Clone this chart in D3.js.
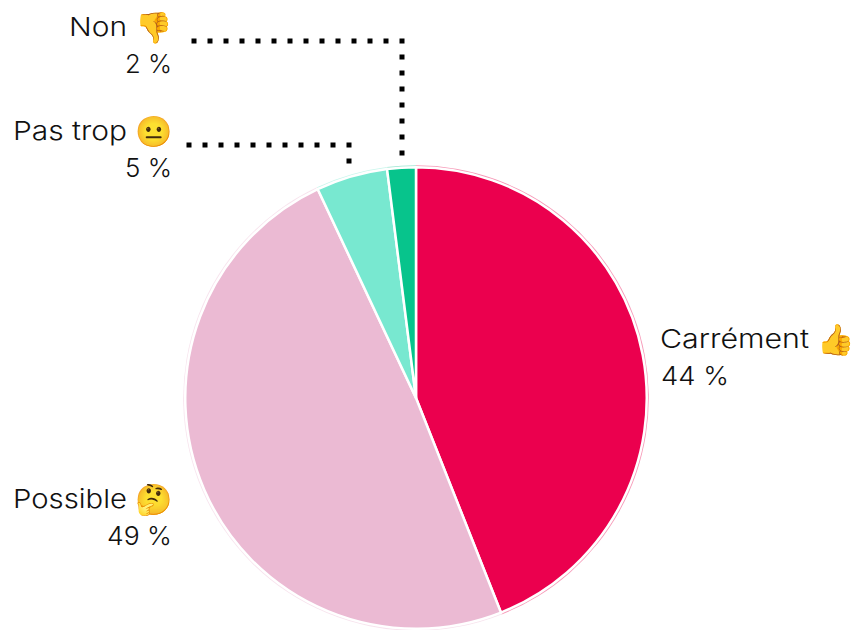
<!DOCTYPE html>
<html>
<head>
<meta charset="utf-8">
<script src="https://cdn.jsdelivr.net/npm/d3@7"></script>
<style>
  body { margin: 0; background: #fff; }
  text { font-family: Inter, Lato, "Noto Sans", sans-serif; font-size: 26px; font-weight: 300; fill: #111; }
  text.emoji { font-size: 30px; }
</style>
</head>
<body>
<svg id="chart" width="854" height="630"></svg>
<script>
const labels = ["Carrément", "Possible", "Pas trop", "Non"];
const values = [44, 49, 5, 2];
const emojis = ["👍", "🤔", "😐", "👎"];
const colors = ["#eb004e", "#ebbad3", "#78e8d0", "#07c48c"];

const svg = d3.select("#chart");
const cx = 416, cy = 398;
const pie = d3.pie().sort(null).value(d => d);
const slices = pie(values);

const g = svg.append("g").attr("transform", `translate(${cx},${cy})`);

// liseré pâle autour des parts
g.append("g").selectAll("path").data(slices).join("path")
  .attr("d", d3.arc().innerRadius(0).outerRadius(232.8))
  .attr("fill", (d, i) => colors[i])
  .attr("fill-opacity", 0.4);

g.append("g").selectAll("path").data(slices).join("path")
  .attr("d", d3.arc().innerRadius(0).outerRadius(230.75))
  .attr("fill", (d, i) => colors[i])
  .attr("stroke", "#fff").attr("stroke-width", 2.5);

// placement des textes, meme ordre que labels
const labelLeft = [660, 13, 13, 69];
const labelWidth = [149, 114, 114, 58];
const labelY = [348, 508, 140, 36];
const pctLeft = [661, 107, 125, 125];
const pctWidth = [68, 65, 47, 47];
const emojiX = [817, 135, 135, 135];

const text = svg.append("g").selectAll("g").data(labels).join("g");
text.append("text")
  .attr("x", (d, i) => labelLeft[i])
  .attr("y", (d, i) => labelY[i])
  .attr("textLength", (d, i) => labelWidth[i])
  .attr("lengthAdjust", "spacingAndGlyphs")
  .text(d => d);
text.append("text")
  .attr("class", "emoji")
  .attr("x", (d, i) => emojiX[i])
  .attr("y", (d, i) => labelY[i] + 2)
  .text((d, i) => emojis[i]);
text.append("text")
  .attr("x", (d, i) => pctLeft[i])
  .attr("y", (d, i) => labelY[i] + 37)
  .attr("textLength", (d, i) => pctWidth[i])
  .attr("lengthAdjust", "spacingAndGlyphs")
  .text((d, i) => `${values[i]} %`);

// pointilles vers les petites parts
const leaders = [
  { x0: 189, y0: 145, x1: 349, y1: 164 },
  { x0: 194, y0: 41, x1: 402, y1: 156 }
];
const line = d3.line();
svg.append("g").selectAll("path").data(leaders).join("path")
  .attr("d", d => line([[d.x0 - 2.5, d.y0], [d.x1, d.y0], [d.x1, d.y1]]))
  .attr("fill", "none")
  .attr("stroke", "#000")
  .attr("stroke-width", 5)
  .attr("stroke-dasharray", "5 11");
</script>
</body>
</html>
